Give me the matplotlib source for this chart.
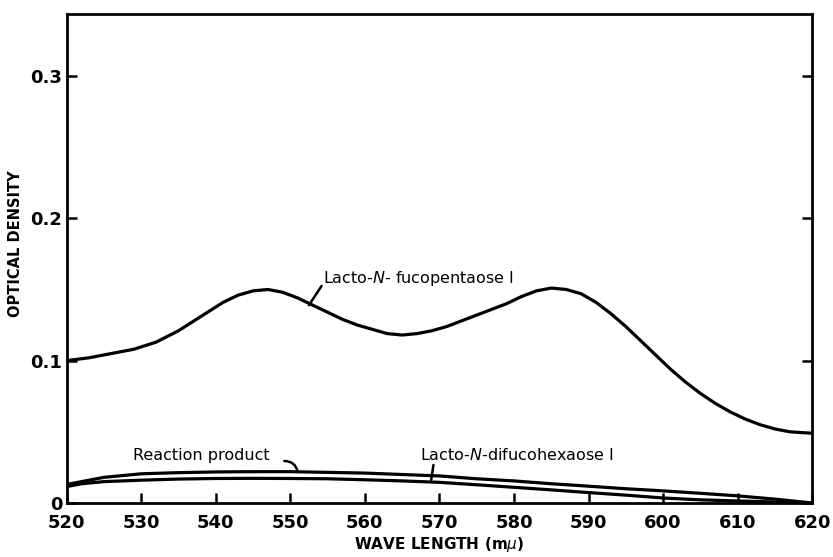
import matplotlib
matplotlib.use("Agg")
import matplotlib.pyplot as plt

# Data
wl_main = [520, 523, 526, 529, 532, 535, 538, 541, 543, 545, 547, 549, 551, 553,
           555, 557, 559, 561, 563, 565, 567, 569, 571, 573, 575, 577, 579, 581,
           583, 585, 587, 589, 591, 593, 595, 597, 599, 601, 603, 605, 607, 609,
           611, 613, 615, 617, 620]
od_main = [0.100, 0.102, 0.105, 0.108, 0.113, 0.121, 0.131, 0.141, 0.146, 0.149,
           0.150, 0.148, 0.144, 0.139, 0.134, 0.129, 0.125, 0.122, 0.119, 0.118,
           0.119, 0.121, 0.124, 0.128, 0.132, 0.136, 0.140, 0.145, 0.149, 0.151,
           0.150, 0.147, 0.141, 0.133, 0.124, 0.114, 0.104, 0.094, 0.085, 0.077,
           0.070, 0.064, 0.059, 0.055, 0.052, 0.050, 0.049]

wl_low = [520, 522, 525, 530, 535, 540, 545, 550, 555, 560, 565, 570, 575, 580,
          585, 590, 595, 600, 605, 610, 615, 620]
od_reaction = [0.013, 0.015, 0.018, 0.0205, 0.0213, 0.0218, 0.022, 0.022, 0.0215,
               0.021, 0.020, 0.019, 0.017, 0.0155, 0.0135, 0.0118, 0.010, 0.0085,
               0.0068, 0.005, 0.0027, 0.0]
od_difuco = [0.0115, 0.0135, 0.015, 0.016, 0.0168, 0.0172, 0.0173, 0.0172, 0.017,
             0.0163, 0.0155, 0.0145, 0.0128, 0.011, 0.0092, 0.0073, 0.0055, 0.0035,
             0.0022, 0.0014, 0.0007, 0.0]

x_ticks = [520, 530, 540, 550, 560, 570, 580, 590, 600, 610, 620]
y_ticks = [0, 0.1, 0.2, 0.3]
y_ticklabels = ["0", "0.1", "0.2", "0.3"]

fig = plt.figure(figsize=(8.33, 5.57), dpi=100)
ax = fig.add_axes([0.080, 0.097, 0.895, 0.878])

lw = 2.3
ax.plot(wl_main, od_main, color="black", lw=lw, solid_joinstyle="round")
ax.plot(wl_low, od_reaction, color="black", lw=lw, solid_joinstyle="round")
ax.plot(wl_low, od_difuco, color="black", lw=lw, solid_joinstyle="round")

ax.set_xlim(520, 620)
ax.set_ylim(0, 0.3436)

for s in ax.spines.values():
    s.set_linewidth(2.0)

ax.set_xticks(x_ticks)
ax.set_yticks(y_ticks)
ax.set_yticklabels(y_ticklabels)
ax.tick_params(axis="both", direction="in", length=7, width=1.8,
               labelsize=13)
ax.tick_params(axis="x", pad=8)
ax.tick_params(axis="y", pad=3, right=True)
for lab in ax.get_xticklabels() + ax.get_yticklabels():
    lab.set_fontweight("bold")

ax.set_xlabel(r"WAVE LENGTH (m$\mu$)", fontsize=11, fontweight="bold",
              labelpad=2)
ax.set_ylabel("OPTICAL DENSITY", fontsize=10.5, fontweight="bold")
ax.yaxis.set_label_coords(-0.058, 0.53)

txt_kw = dict(fontsize=11.5, color="black", va="center", ha="left")
arr_kw = dict(arrowstyle="-", color="black", lw=1.8, shrinkA=0, shrinkB=0)

ax.text(554.4, 0.158, r"Lacto-$\mathit{N}$- fucopentaose I", **txt_kw)
ax.annotate("", xy=(552.5, 0.139), xytext=(554.2, 0.1525), arrowprops=arr_kw)

ax.text(528.9, 0.0337, "Reaction product", **txt_kw)
ax.annotate("", xy=(551.0, 0.0218), xytext=(549.2, 0.0295),
            arrowprops=dict(arr_kw, connectionstyle="arc3,rad=-0.4"))

ax.text(567.4, 0.0337, r"Lacto-$\mathit{N}$-difucohexaose I", **txt_kw)
ax.annotate("", xy=(568.9, 0.0162), xytext=(569.2, 0.0267), arrowprops=arr_kw)

fig.savefig("out.png", dpi=100)
